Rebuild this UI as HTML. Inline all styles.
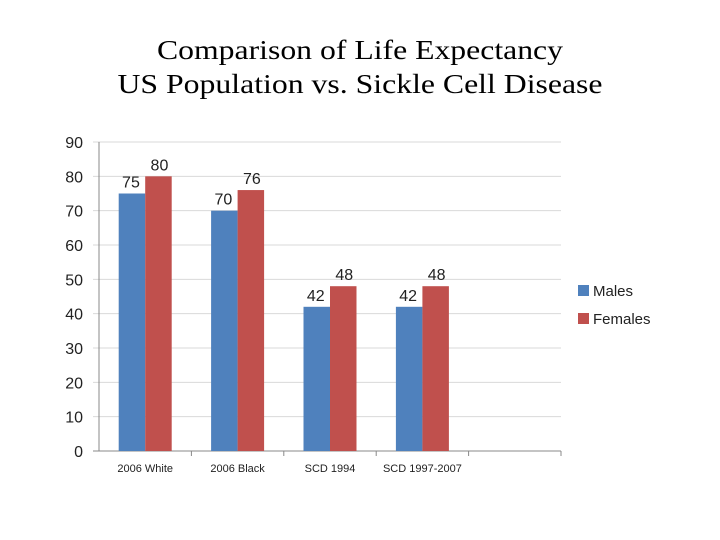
<!DOCTYPE html>
<html><head><meta charset="utf-8"><style>
body{margin:0;background:#fff;width:720px;height:540px;overflow:hidden}
svg{display:block}
</style></head><body>
<svg id="c" width="720" height="540" xmlns="http://www.w3.org/2000/svg">
<text x="360" y="59" text-anchor="middle" textLength="406" lengthAdjust="spacingAndGlyphs" font-family="Liberation Serif, serif" font-size="27" fill="#000">Comparison of Life Expectancy</text>
<text x="360" y="93" text-anchor="middle" textLength="485" lengthAdjust="spacingAndGlyphs" font-family="Liberation Serif, serif" font-size="27" fill="#000">US Population vs. Sickle Cell Disease</text>
<g id="plot"></g>
<g>
<rect x="578" y="285" width="11" height="11" fill="#4f81bd"/>
<text x="593" y="296" font-family="Liberation Sans, sans-serif" font-size="15" fill="#222">Males</text>
<rect x="578" y="313" width="11" height="11" fill="#c0504d"/>
<text x="593" y="324" font-family="Liberation Sans, sans-serif" font-size="15" fill="#222">Females</text>
</g>
</svg>
<script>
const categories=["2006 White","2006 Black","SCD 1994","SCD 1997-2007",""];
const males=[75,70,42,42,null];
const females=[80,76,48,48,null];
const yTicks=[0,10,20,30,40,50,60,70,80,90];
const NS="http://www.w3.org/2000/svg";
const g=document.getElementById("plot");
const x0=99,x1=561,yb=451,yt=142,ymax=90;
const slot=(x1-x0)/categories.length;
const y=v=>yb-(v/ymax)*(yb-yt);
function mk(t,a){const e=document.createElementNS(NS,t);for(const k in a)e.setAttribute(k,a[k]);g.appendChild(e);return e;}
yTicks.forEach(v=>{
 const l=mk("line",{x1:93,x2:x1,y1:y(v),y2:y(v),stroke:v===0?"#888":"#d9d9d9","stroke-width":1});
 
 
 const t=mk("text",{x:83,y:y(v)+6,"text-anchor":"end","font-family":"Liberation Sans, sans-serif","font-size":16,fill:"#222"});
 t.textContent=v;
 
 
});
const ya=mk("line",{x1:x0,x2:x0,y1:yt,y2:yb,stroke:"#888"});


categories.forEach((c,i)=>{
 const tk=mk("line",{x1:x0+slot*(i+1),x2:x0+slot*(i+1),y1:yb,y2:yb+5,stroke:"#888"});
 
 
 const cx=x0+slot*(i+0.5);
 if(c){const t=mk("text",{x:cx,y:472,"text-anchor":"middle","font-family":"Liberation Sans, sans-serif","font-size":11,fill:"#222"});
 t.textContent=c;
 
 }
 const bw=26.5;
 [[males[i],"#4f81bd",cx-bw,'males'],[females[i],"#c0504d",cx,'females']].forEach(([v,col,bx,s])=>{
  if(v==null)return;
  const r=mk("rect",{x:bx,y:y(v),width:bw,height:yb-y(v),fill:col});
  
  
  const t=mk("text",{x:bx+bw/2-(s==='males'?1:0)+(s==='females'?1:0),y:y(v)-6,"text-anchor":"middle","font-family":"Liberation Sans, sans-serif","font-size":16,fill:"#222"});
  t.textContent=v;
  
  
 });
});
</script>
</body></html>
